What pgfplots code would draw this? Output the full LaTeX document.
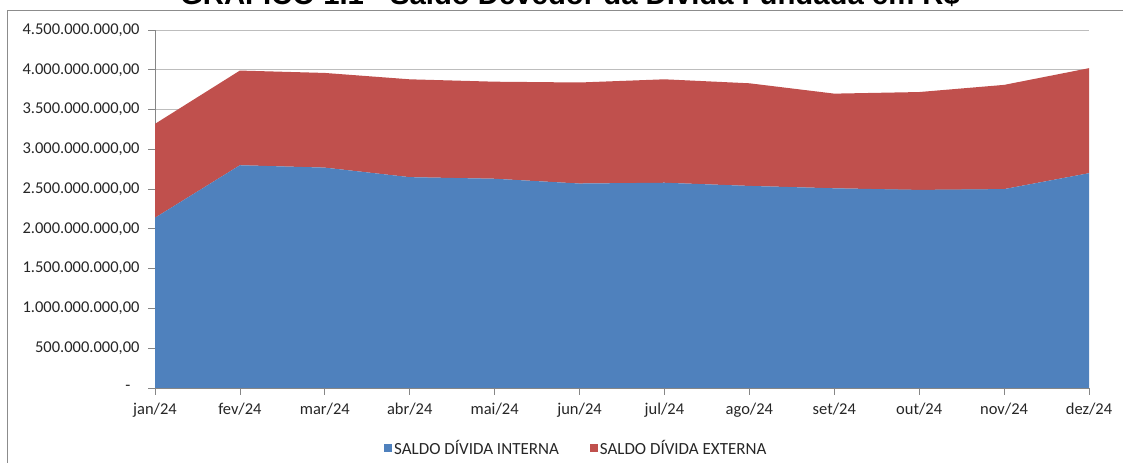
\documentclass[border=0pt]{standalone}
\usepackage{pgfplots}
\pgfplotsset{compat=1.18}
\usepackage{fontspec}
\setmainfont{Carlito}
\newfontfamily\titlefont{Liberation Sans}
\definecolor{blueA}{HTML}{4F81BD}
\definecolor{redA}{HTML}{C0504D}
\definecolor{axisgray}{HTML}{868686}
\definecolor{gridgray}{HTML}{BDBDBD}
\definecolor{framegray}{HTML}{8C8C8C}
\begin{document}
\begin{tikzpicture}[x=1bp,y=1bp]
\draw[framegray, line width=1bp] (1123,452.5) -- (7.5,452.5) -- (7.5,0);
\node[anchor=base, inner sep=0pt, font=\titlefont\bfseries\fontsize{29.3bp}{34bp}\selectfont] at (570,458) {GRÁFICO 1.1 - Saldo Devedor da Dívida Fundada em R\$};
\begin{axis}[
  at={(155bp,75bp)}, anchor=south west,
  scale only axis, width=934bp, height=358bp,
  xmin=0, xmax=11, ymin=0, ymax=4.5e9,
  stack plots=y,
  axis x line*=bottom, axis y line*=left,
  axis line style={axisgray, line width=0.8bp},
  tick style={axisgray, line width=0.8bp},
  tick align=outside, major tick length=7bp,
  xtick={0,1,2,3,4,5,6,7,8,9,10,11},
  xticklabels={jan/24,fev/24,mar/24,abr/24,mai/24,jun/24,jul/24,ago/24,set/24,out/24,nov/24,dez/24},
  ytick={0,500000000,1000000000,1500000000,2000000000,2500000000,3000000000,3500000000,4000000000,4500000000},
  yticklabels={{-\hspace*{9bp}},{500.000.000,00},{1.000.000.000,00},{1.500.000.000,00},{2.000.000.000,00},{2.500.000.000,00},{3.000.000.000,00},{3.500.000.000,00},{4.000.000.000,00},{4.500.000.000,00}},
  scaled y ticks=false,
  ymajorgrids, grid style={gridgray, line width=0.8bp},
  tick label style={font=\fontsize{16.5bp}{19bp}\selectfont, text=black!85},
  yticklabel style={xshift=-5bp},
  xticklabel style={yshift=-5bp},
  legend columns=2,
  legend cell align=left,
  legend style={at={(0.242,-0.168)}, anchor=west, draw=none, fill=none,
    font=\fontsize{17bp}{19bp}\selectfont, text=black!85,
    /tikz/every even column/.append style={column sep=29bp}},
  legend image code/.code={\fill[#1] (0bp,-4bp) rectangle (8bp,4bp);},
]
\addplot[draw=none, fill=blueA] coordinates {
(0,2140000000) (1,2800000000) (2,2770000000) (3,2650000000) (4,2630000000) (5,2570000000)
(6,2580000000) (7,2540000000) (8,2510000000) (9,2490000000) (10,2500000000) (11,2700000000)
} \closedcycle;
\addlegendentry{SALDO DÍVIDA INTERNA}
\addplot[draw=none, fill=redA] coordinates {
(0,1180000000) (1,1190000000) (2,1190000000) (3,1230000000) (4,1220000000) (5,1270000000)
(6,1300000000) (7,1290000000) (8,1190000000) (9,1230000000) (10,1310000000) (11,1320000000)
} \closedcycle;
\addlegendentry{SALDO DÍVIDA EXTERNA}
\end{axis}
\pgfresetboundingbox
\path[use as bounding box] (0,0) rectangle (1123,463);
\end{tikzpicture}
\end{document}
